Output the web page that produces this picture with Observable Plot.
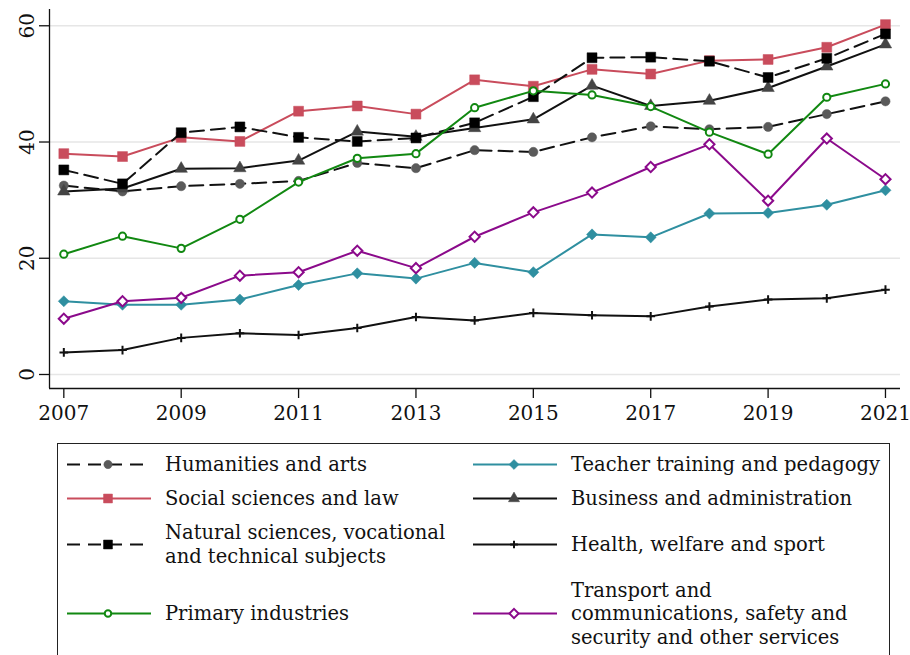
<!DOCTYPE html>
<html>
<head>
<meta charset="utf-8">
<script src="https://cdn.jsdelivr.net/npm/d3@7"></script>
<script src="https://cdn.jsdelivr.net/npm/@observablehq/plot@0.6"></script>
<style>
  html, body { margin: 0; padding: 0; background: #fff; }
  body { width: 910px; height: 655px; overflow: hidden; position: relative; font-family: "DejaVu Serif", serif; }
  #chart { position: absolute; left: 0; top: 0; }
  #legend {
    position: absolute; left: 57px; top: 443px; width: 833px; height: 260px;
    border: 1.3px solid #222; border-bottom: none; box-sizing: border-box;
    padding: 9px 0 0 9px;
    display: grid; grid-template-columns: 406px auto; row-gap: 10.5px; align-content: start;
  }
  .item { display: flex; align-items: center; }
  .item svg { flex: none; margin-right: 14px; }
  .item span { font-size: 19.5px; line-height: 23.5px; color: #111; white-space: nowrap; }
</style>
</head>
<body>
<div id="chart"></div>
<div id="legend"></div>
<script>
// ---- data ----
const years = [2007, 2008, 2009, 2010, 2011, 2012, 2013, 2014, 2015, 2016, 2017, 2018, 2019, 2020, 2021];

const humanities = [32.5, 31.5, 32.4, 32.8, 33.3, 36.4, 35.5, 38.6, 38.3, 40.8, 42.7, 42.2, 42.6, 44.8, 47.0];
const teacher    = [12.6, 12.0, 12.0, 12.9, 15.4, 17.4, 16.5, 19.2, 17.6, 24.1, 23.6, 27.7, 27.8, 29.2, 31.7];
const social     = [38.0, 37.5, 40.8, 40.1, 45.3, 46.2, 44.8, 50.7, 49.6, 52.5, 51.7, 54.0, 54.2, 56.3, 60.2];
const business   = [31.5, 32.0, 35.4, 35.5, 36.8, 41.8, 40.9, 42.4, 43.9, 49.7, 46.2, 47.1, 49.3, 53.0, 56.8];
const natural    = [35.2, 32.8, 41.6, 42.6, 40.8, 40.1, 40.7, 43.3, 47.8, 54.5, 54.6, 53.9, 51.1, 54.4, 58.6];
const health     = [3.8, 4.2, 6.3, 7.1, 6.8, 8.0, 9.9, 9.3, 10.6, 10.2, 10.0, 11.7, 12.9, 13.1, 14.6];
const primary    = [20.7, 23.8, 21.7, 26.7, 33.1, 37.2, 38.0, 45.9, 48.8, 48.1, 46.1, 41.7, 37.9, 47.7, 50.0];
const transport  = [9.6, 12.6, 13.2, 17.0, 17.6, 21.3, 18.3, 23.7, 27.9, 31.3, 35.7, 39.6, 29.9, 40.6, 33.6];

const seriesNames = [
  "Humanities and arts",
  "Teacher training and pedagogy",
  "Social sciences and law",
  "Business and administration",
  "Natural sciences, vocational\nand technical subjects",
  "Health, welfare and sport",
  "Primary industries",
  "Transport and\ncommunications, safety and\nsecurity and other services"
];
const seriesValues = [humanities, teacher, social, business, natural, health, primary, transport];

const xTicks = [2007, 2009, 2011, 2013, 2015, 2017, 2019, 2021];
const yTicks = [0, 20, 40, 60];

// ---- styles ----
const lineColors   = ["#111111", "#2f8fa0", "#c94c5c", "#111111", "#111111", "#111111", "#118811", "#8b0a8b"];
const markerColors = ["#5a5a5a", "#2f8fa0", "#c94c5c", "#444444", "#000000", "#111111", "#118811", "#8b0a8b"];
const symbols      = ["circle", "diamond2", "square", "triangle", "square", "plus", "circle", "diamond2"];
const hollow       = [false, false, false, false, false, true, true, true];
const dashed       = [true, false, false, false, true, false, false, false];
const radii        = [4.6, 5.0, 5.6, 4.6, 5.6, 2.9, 3.6, 4.6];

const d3Symbols = {circle: d3.symbolCircle, square: d3.symbolSquare, triangle: d3.symbolTriangle,
                   diamond2: d3.symbolDiamond2, plus: d3.symbolPlus};

const rows = [];
seriesValues.forEach((vals, s) => vals.forEach((v, i) => rows.push({series: s, year: years[i], value: v})));

const xDomain = [2006.756, 2021.256];
const yDomain = [-2.41, 62.8];

const marks = [
  Plot.ruleY(yTicks, {stroke: "#e6e6e6", strokeWidth: 1.6}),
  Plot.ruleX([xDomain[0]], {y1: yDomain[0], y2: yDomain[1], stroke: "#111", strokeWidth: 1.3}),
  Plot.ruleY([yDomain[0]], {x1: xDomain[0], x2: xDomain[1], stroke: "#111", strokeWidth: 1.3}),
  Plot.axisX({ticks: xTicks, tickSize: 10, tickPadding: 7, tickFormat: d => String(d), fontSize: 20,
              label: null, stroke: "#111", strokeWidth: 1.3, fill: "#111"}),
  Plot.axisY({ticks: yTicks, tickSize: 10, tickPadding: 6, tickRotate: -90, fontSize: 20,
              label: null, stroke: "#111", strokeWidth: 1.3, fill: "#111"})
];

seriesValues.forEach((vals, s) => {
  const data = rows.filter(r => r.series === s);
  marks.push(Plot.line(data, {
    x: "year", y: "value", stroke: lineColors[s], strokeWidth: 2,
    strokeDasharray: dashed[s] ? "14,7" : null
  }));
  marks.push(Plot.dot(data, {
    x: "year", y: "value", symbol: () => symbols[s], r: radii[s],
    fill: hollow[s] ? (symbols[s] === "plus" ? "none" : "white") : markerColors[s],
    stroke: markerColors[s], strokeWidth: hollow[s] ? 2 : 0.5
  }));
});

const chart = Plot.plot({
  width: 910, height: 438,
  marginLeft: 49, marginRight: 10, marginTop: 9, marginBottom: 50,
  style: {fontFamily: "DejaVu Serif, serif", fontSize: "20px", background: "white", color: "#111"},
  x: {domain: xDomain},
  y: {domain: yDomain},
  marks
});
document.getElementById("chart").appendChild(chart);

// ---- legend ----
const legend = d3.select("#legend");
seriesNames.forEach((name, s) => {
  const item = legend.append("div").attr("class", "item");
  const svg = item.append("svg").attr("width", 84).attr("height", 23);
  svg.append("line").attr("x1", 0).attr("x2", 84).attr("y1", 11.5).attr("y2", 11.5)
    .attr("stroke", lineColors[s]).attr("stroke-width", 2)
    .attr("stroke-dasharray", dashed[s] ? "13,8" : null);
  const rr = radii[s] * 0.9;
  svg.append("path")
    .attr("d", d3.symbol(d3Symbols[symbols[s]], rr * rr * Math.PI)())
    .attr("transform", "translate(41,11.5)")
    .attr("fill", hollow[s] ? (symbols[s] === "plus" ? "none" : "white") : markerColors[s])
    .attr("stroke", markerColors[s]).attr("stroke-width", hollow[s] ? 2 : 0.5);
  const span = item.append("span");
  name.split("\n").forEach((ln, j) => { if (j) span.append("br"); span.append(() => document.createTextNode(ln)); });
});
</script>
</body>
</html>
